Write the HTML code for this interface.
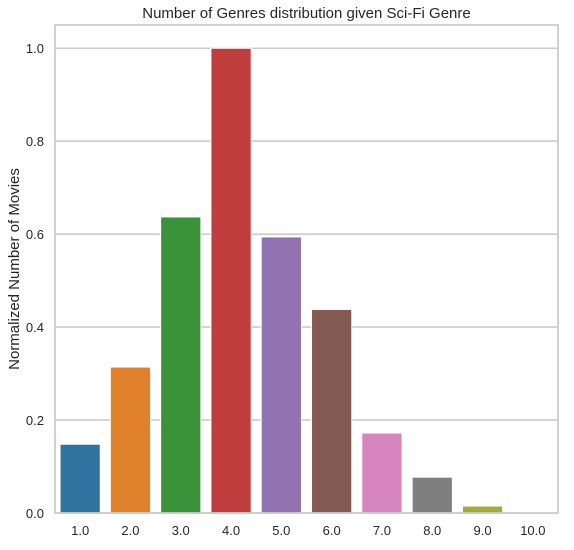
<!DOCTYPE html>
<html><head><style>
body{margin:0;background:#fff;font-family:"Liberation Sans",sans-serif;}
</style></head><body>
<svg id="chart" width="574" height="545" xmlns="http://www.w3.org/2000/svg"></svg>
<script>
const categories=["1.0","2.0","3.0","4.0","5.0","6.0","7.0","8.0","9.0","10.0"];
const values=[0.148,0.314,0.637,1.0,0.594,0.438,0.172,0.077,0.015,0.002];
const colors=["#3274a1","#e1812c","#3a923a","#c03d3e","#9372b2","#845b53","#d684bd","#7f7f7f","#a9aa35","#2ea8b6"];
const yTicks=[0,0.2,0.4,0.6,0.8,1.0];
const yTickLabels=["0.0","0.2","0.4","0.6","0.8","1.0"];
const svg=document.getElementById('chart');
const NS="http://www.w3.org/2000/svg";
const L=55,R=558,T=25,B=513;
const yMax=1.05;
function y(v){return B-(v/yMax)*(B-T);}
const band=(R-L)/categories.length;
function x(i){return L+i*band;}
function mk(tag,attrs,name){const e=document.createElementNS(NS,tag);for(const k in attrs)e.setAttribute(k,attrs[k]);


svg.appendChild(e);return e;}
yTicks.forEach((t,i)=>{
 mk('line',{x1:L,x2:R,y1:y(t),y2:y(t),stroke:'#cccccc','stroke-width':1.6},'grid-line');
 const tx=mk('text',{x:L-11,y:y(t)+5,'text-anchor':'end','font-size':13,fill:'#262626'},'y-tick-label');tx.textContent=yTickLabels[i];
});
values.forEach((v,i)=>{
 mk('rect',{x:x(i)+band*0.1,y:y(v),width:band*0.8,height:B-y(v),fill:colors[i],stroke:'#fff','stroke-width':1},'bar-'+categories[i]);
 const tx=mk('text',{x:x(i)+band/2,y:B+22,'text-anchor':'middle','font-size':13,fill:'#262626'},'x-tick-label');tx.textContent=categories[i];
});
mk('rect',{x:L,y:T,width:R-L,height:B-T,fill:'none',stroke:'#cccccc','stroke-width':1.8},'plot-frame');
const ti=mk('text',{x:(L+R)/2,y:18,'text-anchor':'middle','font-size':15,fill:'#262626'},'chart-title');ti.textContent='Number of Genres distribution given Sci-Fi Genre';
const yl=mk('text',{x:0,y:0,'text-anchor':'middle','font-size':15,fill:'#262626',transform:`translate(19,${(T+B)/2}) rotate(-90)`},'y-axis-title');yl.textContent='Normalized Number of Movies';
</script>
</body></html>
